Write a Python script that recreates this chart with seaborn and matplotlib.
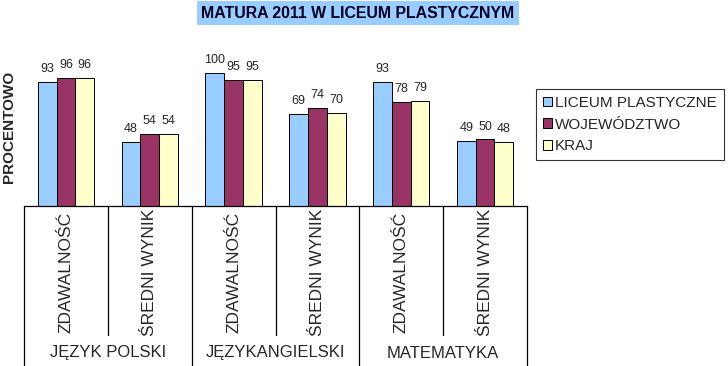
import pandas as pd
import matplotlib
matplotlib.use("Agg")
import matplotlib.pyplot as plt
import matplotlib.transforms as mtransforms
import seaborn as sns

# data
subjects = ["JĘZYK POLSKI", "JĘZYKANGIELSKI", "MATEMATYKA"]
measures = ["ZDAWALNOŚĆ", "ŚREDNI WYNIK"]
series = ["LICEUM PLASTYCZNE", "WOJEWÓDZTWO", "KRAJ"]
liceum = [93, 48, 100, 69, 93, 49]
wojewodztwo = [96, 54, 95, 74, 78, 50]
kraj = [96, 54, 95, 70, 79, 48]
colors = ["#99CCFF", "#993366", "#FFFFCC"]

keys = [s + " | " + m for s in subjects for m in measures]
rows = []
for name, vals in zip(series, [liceum, wojewodztwo, kraj]):
    for k, v in zip(keys, vals):
        rows.append({"kat": k, "seria": name, "wartosc": v})
df = pd.DataFrame(rows)

sns.set_theme(style="white")
plt.rcParams["font.family"] = ["Liberation Sans", "DejaVu Sans"]

fig = plt.figure(figsize=(7.28, 3.66), dpi=100)
W, H = 728, 366
ax = fig.add_axes([24 / W, 1 - 206 / H, (527 - 24) / W, (206 - 33) / H])

sns.barplot(data=df, x="kat", y="wartosc", hue="seria", order=keys,
            hue_order=series, palette=colors, edgecolor="black",
            linewidth=0.7, width=0.67, saturation=1, ax=ax)

for cont in ax.containers:
    ax.bar_label(cont, padding=5, fontsize=9)

ax.set_xlim(-0.5, len(keys) - 0.5)
ax.set_ylim(0, 130)
ax.set_xlabel("")
ax.set_ylabel("")
ax.set_xticks(range(len(keys)))
ax.set_xticklabels([""] * len(keys))
ax.set_yticks([])
ax.tick_params(length=0)
for side in ["left", "right", "top"]:
    ax.spines[side].set_visible(False)
ax.spines["bottom"].set_color("black")
ax.spines["bottom"].set_linewidth(0.9)

# table-like category axis under the bars
tr = mtransforms.blended_transform_factory(ax.transData, fig.transFigure)
y_base = 1 - 206 / H
y_inner = 1 - 335 / H
for i in range(len(keys) + 1):
    x = i - 0.5
    y_end = 0 if i % 2 == 0 else y_inner
    ax.plot([x, x], [y_base, y_end], color="black", lw=0.9,
            transform=tr, clip_on=False)
for i, k in enumerate(keys):
    ax.text(i, 1 - 272 / H, k.split(" | ")[1], rotation=90, ha="center",
            va="center", fontsize=12.5, transform=tr)
for j, s in enumerate(subjects):
    ax.text(2 * j + 0.5, 1 - 353 / H, s, ha="center", va="center",
            fontsize=12, transform=tr)

handles, labels = ax.get_legend_handles_labels()
ax.get_legend().remove()
leg = fig.legend(handles, labels, loc="upper left",
                 bbox_to_anchor=(536 / W, 1 - 89 / H), fontsize=11,
                 frameon=True, fancybox=False, handlelength=0.6,
                 handleheight=0.6, handletextpad=0.2, labelspacing=0.5,
                 borderpad=0.45, borderaxespad=0)
leg.get_frame().set_edgecolor("black")
leg.get_frame().set_linewidth(0.8)

fig.text(9 / W, 1 - 127 / H, "PROCENTOWO", rotation=90, ha="center",
         va="center", fontsize=11, fontweight="bold")
fig.text(358 / W, 1 - 13 / H, "MATURA 2011 W LICEUM PLASTYCZNYM",
         ha="center", va="center", fontsize=11.4, fontweight="bold",
         color="#000022",
         bbox=dict(boxstyle="square,pad=0.3", facecolor="#99CCFF",
                   edgecolor="none"))

fig.savefig("out.png", dpi=100, facecolor="white")
